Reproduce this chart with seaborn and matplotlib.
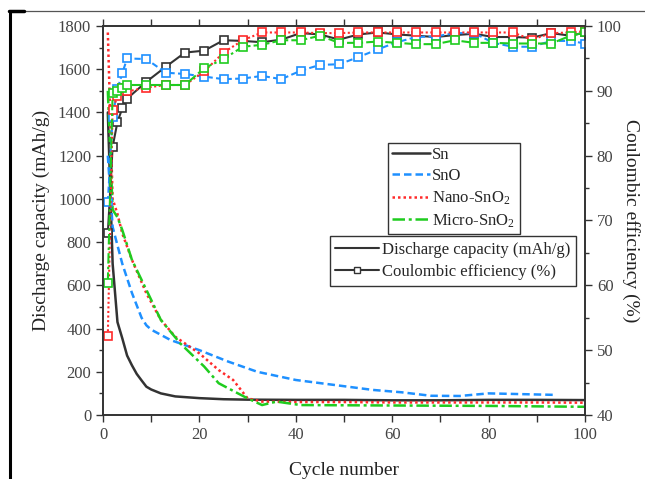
import numpy as np
import pandas as pd
import matplotlib
matplotlib.use("Agg")
import matplotlib.pyplot as plt
from matplotlib.lines import Line2D
from matplotlib.ticker import MultipleLocator
import seaborn as sns

# ---------------- data ----------------
sn_cap_cycle = [1, 2, 3, 4, 5, 6, 7, 8, 9, 10, 12, 15, 20, 25, 30, 40, 50, 60, 70, 80, 90, 100]
sn_cap = [1400, 700, 430, 355, 275, 230, 190, 160, 131, 118, 100, 86, 78, 73, 71, 70, 70, 68, 68, 70, 70, 69]

sno_cap_cycle = [1, 2, 4, 6, 8, 9, 10, 14, 20, 26, 32, 40, 48, 56, 62, 68, 74, 80, 86, 94]
sno_cap = [1200, 870, 700, 565, 450, 415, 395, 347, 300, 247, 200, 162, 139, 116, 105, 89, 88, 100, 97, 93]

nano_cap_cycle = [1, 2, 3, 4, 6, 9, 12, 15, 20, 24, 27, 30, 33, 40, 50, 60, 70, 80, 90, 100]
nano_cap = [1770, 1000, 930, 840, 718, 563, 440, 362, 285, 208, 162, 77, 62, 60, 60, 58, 58, 58, 58, 57]

micro_cap_cycle = [1, 2, 3, 4, 6, 9, 12, 16, 21, 24, 28, 30, 33, 36, 41, 50, 60, 70, 80, 90, 100]
micro_cap = [1500, 950, 915, 856, 718, 579, 440, 332, 224, 147, 100, 77, 46, 62, 46, 45, 44, 43, 42, 40, 38]

eff_cycles = [1, 2, 3, 4, 5, 9, 13, 17, 21, 25, 29, 33, 37, 41, 45, 49, 53, 57, 61, 65,
              69, 73, 77, 81, 85, 89, 93, 97, 100]
sn_eff = [68, 81.4, 85.2, 87.3, 88.8, 91.4, 93.7, 95.9, 96.2, 97.8, 97.7, 97.5, 97.9, 98.9, 98.7,
          97.9, 98.7, 99.0, 98.7, 98.5, 98.3, 98.6, 98.8, 98.3, 98.3, 98.2, 98.9, 98.5, 99.0]
sno_eff = [72.8, 86, 90.3, 92.7, 95, 94.9, 92.8, 92.6, 92.2, 91.8, 91.9, 92.3, 91.8, 93.1, 94,
           94.1, 95.2, 96.4, 97.5, 98.3, 98.4, 98.9, 98.9, 97.4, 96.8, 96.8, 97.7, 97.7, 97.3]
nano_eff = [52.2, 87.1, 89.2, 90.5, 89.9, 90.5, 90.9, 90.9, 93, 95.9, 97.8, 99, 99, 99, 98.9,
            98.9, 99, 99, 99, 99, 99, 99, 99, 99, 99, 97.9, 98.9, 99, 99.2]
micro_eff = [60.4, 89.7, 90, 90.5, 90.9, 90.9, 90.9, 90.9, 93.5, 94.9, 96.8, 97.1, 97.8, 97.8, 98.5,
             97.4, 97.4, 97.6, 97.4, 97.2, 97.2, 97.8, 97.4, 97.4, 97.3, 97.3, 97.3, 98.5, 99.0]

names = ["Sn", "SnO", "Nano-SnO$_2$", "Micro-SnO$_2$"]
colors = ["#333333", "#1E90FF", "#FF2A2A", "#1FCC1F"]
styles = ["-", (0, (3, 1.6)), (0, (1, 1.2)), (0, (5, 1.5, 1.2, 1.5))]

caps = [(sn_cap_cycle, sn_cap), (sno_cap_cycle, sno_cap),
        (nano_cap_cycle, nano_cap), (micro_cap_cycle, micro_cap)]
effs = [sn_eff, sno_eff, nano_eff, micro_eff]

# ---------------- style ----------------
sns.set_theme(style="ticks")
plt.rcParams["font.family"] = ["Liberation Serif", "DejaVu Serif"]
plt.rcParams["mathtext.fontset"] = "custom"
plt.rcParams["mathtext.rm"] = "Liberation Serif"
plt.rcParams["mathtext.it"] = "Liberation Serif:italic"

fig = plt.figure(figsize=(6.45, 4.79), dpi=100)
ax = fig.add_axes([103/645, 1-415/479, 482/645, 389/479])
ax2 = ax.twinx()

for (cx, cy), col, ls in zip(caps, colors, styles):
    sns.lineplot(x=cx, y=cy, ax=ax, color=col, linestyle=ls, linewidth=1.8,
                 sort=False, estimator=None)

for ey, col, ls in zip(effs, colors, styles):
    sns.lineplot(x=eff_cycles, y=ey, ax=ax2, color=col, linestyle=ls, linewidth=1.5,
                 marker="s", markersize=6.3, markerfacecolor="white",
                 markeredgecolor=col, markeredgewidth=1.2, sort=False, estimator=None)

ax.set_xlim(0, 100)
ax.set_ylim(0, 1800)
ax2.set_ylim(40, 100)
ax.xaxis.set_major_locator(MultipleLocator(20))
ax.xaxis.set_minor_locator(MultipleLocator(10))
ax.yaxis.set_major_locator(MultipleLocator(200))
ax.yaxis.set_minor_locator(MultipleLocator(100))
ax2.yaxis.set_major_locator(MultipleLocator(10))
ax2.yaxis.set_minor_locator(MultipleLocator(5))

tickcol = "#444444"
ax.tick_params(axis="both", which="major", direction="out", length=5, width=1,
               labelsize=12, labelcolor=tickcol, color="#333333")
ax.tick_params(axis="both", which="minor", direction="out", length=3, width=1, color="#333333")
ax.tick_params(axis="x", which="both", top=True, labeltop=False)
ax.tick_params(axis="x", which="minor", length=5)
ax2.tick_params(axis="y", which="major", direction="out", length=5, width=1,
                labelsize=12, labelcolor=tickcol, color="#333333")
ax2.tick_params(axis="y", which="minor", direction="out", length=3, width=1, color="#333333")

for a in (ax, ax2):
    for s in a.spines.values():
        s.set_visible(True)
        s.set_linewidth(1.2)
        s.set_color("#333333")

ax.set_xlabel("Cycle number", fontsize=14, color="#222222", labelpad=14)
ax.set_ylabel("Discharge capacity (mAh/g)", fontsize=14, color="#222222", labelpad=6)
ax2.set_ylabel("Coulombic efficiency (%)", fontsize=14, color="#222222", rotation=270, labelpad=13)

# legends
h1 = [Line2D([], [], color=c, linestyle=s, linewidth=1.8) for c, s in zip(colors, styles)]
leg1 = ax2.legend(h1, names, loc="upper left", bbox_to_anchor=(0.591, 0.70),
                  fontsize=12, frameon=True, fancybox=False, framealpha=1,
                  edgecolor="#333333", handlelength=2.3, handletextpad=0.12,
                  borderpad=0.25, labelspacing=0.32, borderaxespad=0)
leg1.get_frame().set_linewidth(1.0)
ax2.add_artist(leg1)

h2 = [Line2D([], [], color="#333333", linewidth=1.5),
      Line2D([], [], color="#333333", linewidth=1.5, marker="s", markersize=4,
             markerfacecolor="white", markeredgewidth=1)]
leg2 = ax2.legend(h2, ["Discharge capacity (mAh/g)", "Coulombic efficiency (%)"],
                  loc="upper left", bbox_to_anchor=(0.47, 0.46),
                  fontsize=12, frameon=True, fancybox=False, framealpha=1,
                  edgecolor="#333333", handlelength=2.6, handletextpad=0.2,
                  borderpad=0.35, labelspacing=0.35, borderaxespad=0)
leg2.get_frame().set_linewidth(1.0)

# image frame decoration
fig.add_artist(Line2D([8/645, 1], [1-11/479, 1-11/479], transform=fig.transFigure,
                      color="#555555", linewidth=0.9))
fig.add_artist(Line2D([10/645, 10/645], [0, 1-11/479], transform=fig.transFigure,
                      color="black", linewidth=2.2))
fig.add_artist(Line2D([9/645, 24/645], [1-11/479, 1-11/479], transform=fig.transFigure,
                      color="black", linewidth=2.5))

fig.savefig("out.png", dpi=100)
